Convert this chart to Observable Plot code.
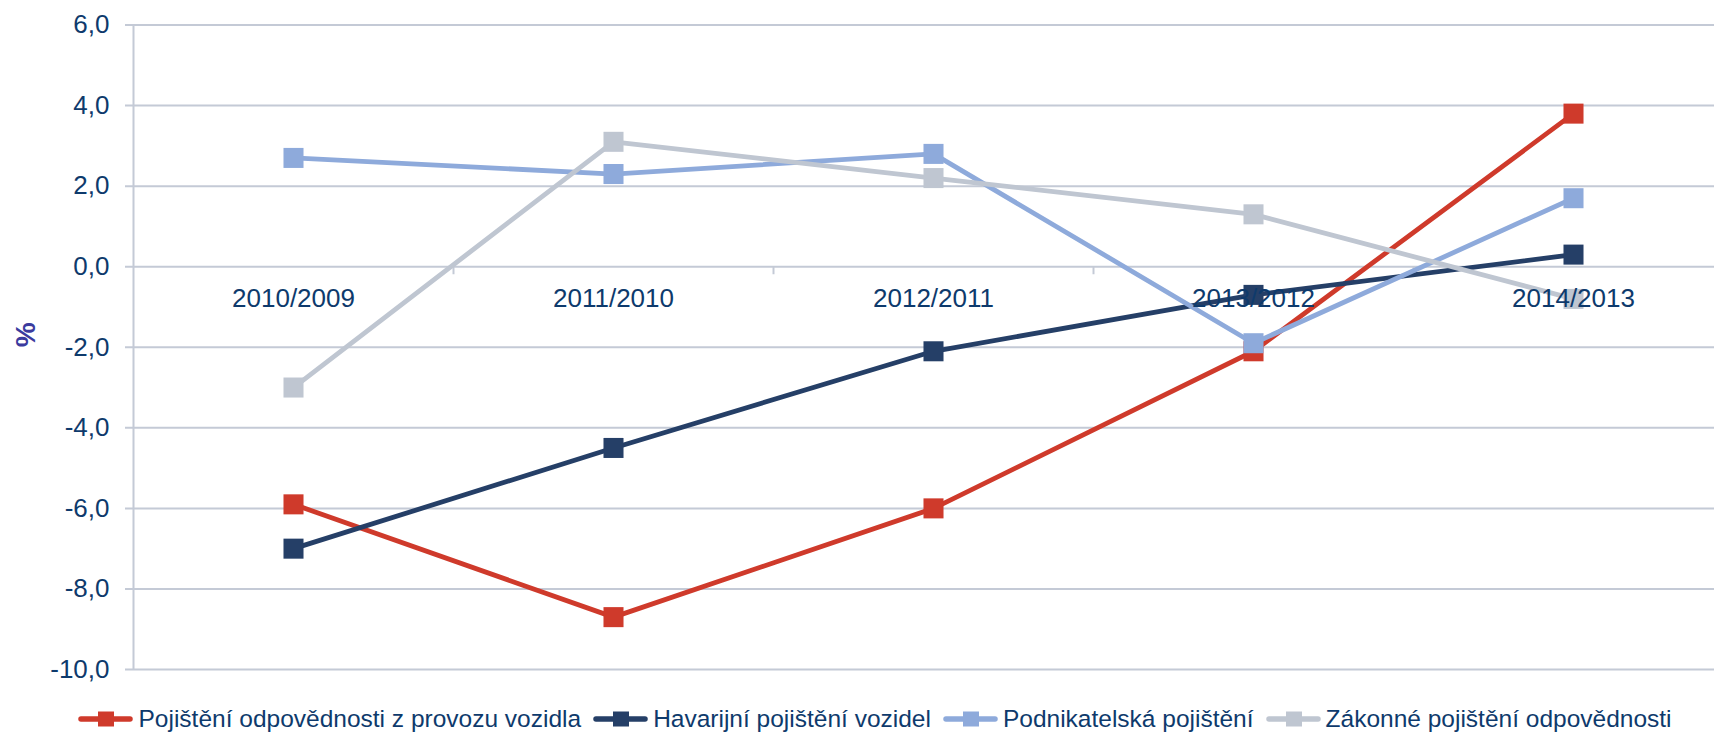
<!DOCTYPE html>
<html>
<head>
<meta charset="utf-8">
<script src="https://cdn.jsdelivr.net/npm/d3@7"></script>
<script src="https://cdn.jsdelivr.net/npm/@observablehq/plot@0.6"></script>
<style>
  html, body { margin: 0; padding: 0; background: #fff; overflow: hidden; }
  #chart svg { display: block; overflow: hidden; }
  #legend {
    display: flex; justify-content: center; align-items: center;
    margin-top: 15px; height: 28px; padding-left: 48px;
    font-family: "Liberation Sans", Arial, sans-serif; font-size: 24.5px; color: #0E3A6C;
    white-space: nowrap;
  }
  .item { display: flex; align-items: center; margin-right: 12px; }
  .item svg { margin-right: 5px; }
</style>
</head>
<body>
<div id="chart"></div>
<div id="legend"></div>
<script>
const categories = ["2010/2009", "2011/2010", "2012/2011", "2013/2012", "2014/2013"];
const seriesNames = [
  "Pojištění odpovědnosti z provozu vozidla",
  "Havarijní pojištění vozidel",
  "Podnikatelská pojištění",
  "Zákonné pojištění odpovědnosti"
];
const povinneRuceni = [-5.9, -8.7, -6.0, -2.1, 3.8];
const havarijni = [-7.0, -4.5, -2.1, -0.7, 0.3];
const podnikatelska = [2.7, 2.3, 2.8, -1.9, 1.7];
const zakonne = [-3.0, 3.1, 2.2, 1.3, -0.8];
const seriesColors = ["#CF3A2B", "#253F67", "#8EAADB", "#BFC6D1"];
const yTicks = [6, 4, 2, 0, -2, -4, -6, -8, -10];
const yLabel = "%";

const seriesValues = [povinneRuceni, havarijni, podnikatelska, zakonne];
const rows = seriesValues.flatMap((vals, s) =>
  vals.map((v, i) => ({series: seriesNames[s], cat: categories[i], pos: i + 0.5, value: v}))
);

const grid = "#C4CAD6";
const textColor = "#0E3A6C";
const fmt = d => d.toFixed(1).replace(".", ",");

const seriesMarks = seriesNames.flatMap((name, s) => {
  const data = rows.filter(r => r.series === name);
  return [
    Plot.line(data, {x: "pos", y: "value", stroke: seriesColors[s], strokeWidth: 4.8, strokeLinejoin: "round"}),
    Plot.dot(data, {x: "pos", y: "value", symbol: "square", r: 11.3, fill: seriesColors[s], stroke: "none"})
  ];
});

const chart = Plot.plot({
  width: 1714,
  height: 690,
  marginTop: 24.5,
  marginBottom: 21,
  marginLeft: 133,
  marginRight: 0,
  style: {fontFamily: "'Liberation Sans', Arial, sans-serif", overflow: "hidden", background: "#fff"},
  x: {type: "linear", domain: [0, categories.length], range: [133, 1733], axis: null},
  y: {domain: [-10, 6], axis: null},
  marks: [
    Plot.ruleY(yTicks, {y: d => d, x1: -0.025, x2: categories.length, stroke: grid, strokeWidth: 2}),
    Plot.ruleX([0], {x: d => d, y1: -10, y2: 6, stroke: grid, strokeWidth: 2}),
    Plot.ruleX(d3.range(1, categories.length), {x: d => d, y1: 0, y2: -0.2, stroke: grid, strokeWidth: 2}),
    ...seriesMarks,
    Plot.text(yTicks, {x: () => 0, y: d => d, text: fmt, textAnchor: "end", dx: -24, fontSize: 26, fill: textColor}),
    Plot.text(categories, {x: (d, i) => i + 0.5, y: () => 0, text: d => d, dy: 32, fontSize: 26, fill: textColor}),
    Plot.text([yLabel], {frameAnchor: "left", text: d => d, rotate: -90, dx: -107, fontSize: 28, fontWeight: "bold", fill: "#3B3B9E"})
  ]
});
document.getElementById("chart").appendChild(chart);

const legend = document.getElementById("legend");
seriesNames.forEach((name, s) => {
  const item = document.createElement("div");
  item.className = "item";
  const c = seriesColors[s];
  item.innerHTML = `<svg width="55" height="16"><line x1="3" y1="8" x2="52" y2="8" stroke="${c}" stroke-width="5.5" stroke-linecap="round"/><rect x="20" y="0.5" width="16" height="15" fill="${c}"/></svg><span>${name}</span>`;
  legend.appendChild(item);
});
</script>
</body>
</html>
